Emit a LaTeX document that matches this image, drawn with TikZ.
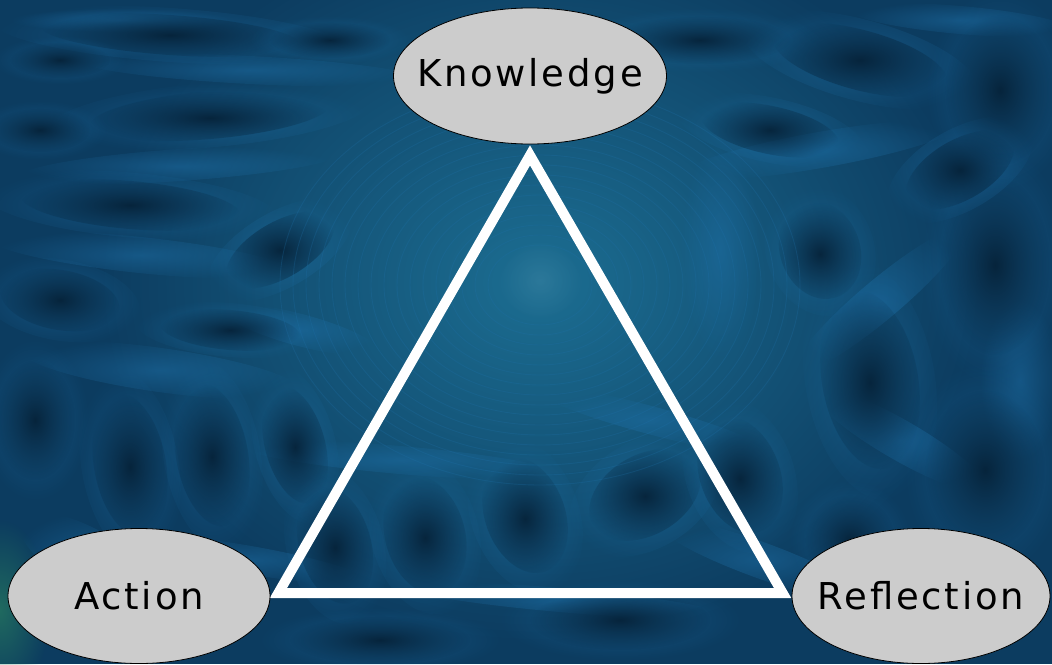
\documentclass[tikz,border=0pt]{standalone}
\usepackage{fontspec}
\newfontfamily\labfont{DejaVu Sans}[LetterSpace=7.5]
\usetikzlibrary{shapes.geometric,fadings,calc}
\definecolor{bgbase}{RGB}{12,60,96}
\definecolor{bgdark}{RGB}{4,28,48}
\definecolor{bglight}{RGB}{30,112,168}
\definecolor{glow}{RGB}{28,110,146}
\definecolor{greenish}{RGB}{40,125,95}
\definecolor{nodefill}{RGB}{204,204,204}
\tikzfading[name=softblob, inner color=transparent!0, outer color=transparent!100]
\pgfdeclarelayer{bg}
\pgfdeclarelayer{mid}
\pgfsetlayers{bg,mid,main}
\tikzset{
  vertex/.style={ellipse, draw=black, line width=0.8pt, fill=nodefill,
    inner sep=0pt, text=black, font=\labfont\fontsize{37}{40}\selectfont},
  darkblob/.style={fill=bgdark, path fading=softblob, opacity=0.85},
  rimblob/.style={fill=bglight, path fading=softblob, opacity=0.45},
  lightblob/.style={fill=bglight, path fading=softblob, opacity=0.5},
  ring/.style={draw=bglight, line width=0.9pt, opacity=0.25},
  edge/.style={draw=white, line width=10pt, miter limit=10, line join=miter}
}
\begin{document}
\begin{tikzpicture}[x=1pt,y=-1pt]
\useasboundingbox (0,0) rectangle (1052,664);
% nodes
\node[vertex, minimum width=273pt, minimum height=136pt] (K) at (530,76) {\makebox[0pt]{Knowledge}};
\node[vertex, minimum width=262pt, minimum height=135pt] (A) at (139,596) {\makebox[0pt]{Action}};
\node[vertex, minimum width=258pt, minimum height=135pt] (R) at (921,596) {\makebox[0pt]{Reflection}};
\coordinate (apex) at ($(K.south)+(0,11)$);
\coordinate (bl) at ($(A.east)+(8,-3)$);
\coordinate (br) at ($(R.west)+(-9,-3)$);
\begin{pgfonlayer}{mid}
\draw[edge] (apex) -- (bl) -- (br) -- cycle;
\end{pgfonlayer}
\begin{pgfonlayer}{bg}
\fill[bgbase] (0,0) rectangle (1052,664);
\shade[inner color=glow, outer color=bgbase] (540,282) ellipse (440 and 360);
\fill[greenish, path fading=softblob, opacity=0.7] (0,610) ellipse (50 and 90);
% light streaks
\foreach \px/\py/\rx/\ry/\rot in {
  250/70/170/14/-3, 180/165/160/16/4, 140/255/150/18/-6, 160/370/140/22/-8,
  90/560/80/30/-30, 300/330/80/16/-15, 820/150/140/18/10, 880/300/110/20/40,
  900/440/100/20/-30, 760/560/110/18/-20, 400/460/160/14/-5, 650/420/120/14/-15,
  960/20/110/14/-5, 120/20/110/12/0, 1020/380/40/80/0, 720/250/40/110/0,
  250/560/120/14/-10, 560/600/160/12/-5}
  \fill[lightblob, rotate around={\rot:(\px,\py)}] (\px,\py) ellipse ({\rx} and {\ry});
% dark lobes with a light rim
\foreach \px/\py/\rx/\ry/\rot in {
  170/35/130/20/-4, 210/115/120/24/5, 130/205/110/24/-5, 40/130/50/22/0,
  280/250/60/28/30, 330/40/60/18/0, 700/40/90/24/0, 770/130/70/24/-12,
  130/465/36/72/10, 212/455/36/72/10, 295/445/30/60/15, 35/420/40/60/0,
  335/545/36/60/15, 425/535/40/60/15, 525/515/40/60/20, 645/495/60/40/30,
  740/475/40/60/20, 860/60/90/30/-15, 1000/90/55/75/0, 995/265/55/90/0,
  870/380/48/90/10, 985/470/60/80/0, 850/540/45/45/0, 620/620/90/30/0,
  380/640/90/24/0, 60/300/60/30/-10, 960/170/60/30/30, 60/60/50/18/0,
  230/330/70/20/-5, 820/250/40/50/20}
  {
  \fill[rimblob, rotate around={\rot:(\px,\py)}] (\px,\py) ellipse ({\rx*1.35} and {\ry*1.35});
  \fill[darkblob, rotate around={\rot:(\px,\py)}] (\px,\py) ellipse ({\rx} and {\ry});
  }
% concentric rings around the centre
\foreach \rr in {40,50,...,200}
  \draw[ring] (540,285) ellipse ({\rr*1.3} and {\rr});
\fill[glow!80!white, path fading=softblob, opacity=0.35] (540,280) circle (40);
\end{pgfonlayer}
\end{tikzpicture}
\end{document}
